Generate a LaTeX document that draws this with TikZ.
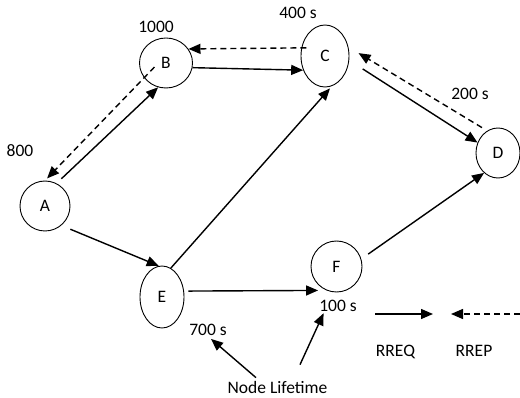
\documentclass[tikz,border=0pt]{standalone}
\usepackage{fontspec}
\setmainfont{Carlito}
\usetikzlibrary{arrows.meta,shapes.geometric}
\begin{document}
\begin{tikzpicture}[x=1pt,y=-1pt,
  nd/.style={draw, ellipse, line width=0.9pt, inner sep=0pt, font=\fontsize{17.5}{20}\selectfont},
  lbl/.style={anchor=base, inner sep=0pt, font=\fontsize{17.5}{20}\selectfont},
  req/.style={line width=1.4pt, -{Triangle[length=12pt,width=10pt]}},
  rep/.style={line width=1.4pt, dash pattern=on 6pt off 4pt, -{Triangle[length=12pt,width=10pt]}}]
\useasboundingbox (0,0) rectangle (520,398);
% nodes
\node[nd, minimum width=53pt, minimum height=50pt] (B) at (166,63) {B};
\node[nd, minimum width=48pt, minimum height=62pt] (C) at (325,56) {C};
\node[nd, minimum width=44pt, minimum height=50pt] (D) at (498,153) {D};
\node[nd, minimum width=50pt, minimum height=50pt] (A) at (45,206) {A};
\node[nd, minimum width=44pt, minimum height=62pt] (E) at (162,297) {E};
\node[nd, minimum width=51pt, minimum height=51pt] (F) at (336.5,266.5) {F};
% labels
\node[lbl] (l1000) at (156,33) {1000};
\node[lbl] (l800) at (20,157) {800};
\node[lbl] (l400) at (298,19) {400 s};
\node[lbl] (l200) at (470,100) {200 s};
\node[lbl] (l700) at (208,336) {700 s};
\node[lbl] (l100) at (338,312) {100 s};
\node[lbl] (lreq) at (395.5,357) {RREQ};
\node[lbl] (lrep) at (474,357) {RREP};
\node[lbl] (nl) at (277.5,393) {Node Lifetime};
% edges
\draw[req, shorten <=6.6pt] (A.63.5) -- (B.252);
\draw[rep, shorten <=-15pt, shorten >=3pt] (B.214) -- (A.90);
\draw[req] (B.-10) -- (C.213);
\draw[rep, shorten <=-5pt] (C.161) -- (B.32);
\draw[req, shorten <=16pt] (C.-10.6) -- (D.153);
\draw[rep, shorten <=6pt, shorten >=11.8pt] (D.116) -- (C.21.7);
\draw[req, shorten >=3pt] (E.73) -- (C.283);
\draw[req, shorten <=9.7pt] (A.-50) -- (E.96);
\draw[req, shorten <=4.4pt, shorten >=8.3pt] (E.15.5) -- (F.247);
\draw[req, shorten <=8.4pt] (F.17) -- (D.235);
% lifetime pointers
\draw[req, shorten >=4pt] ([shift={(-21.5,-3)}]nl.north) -- (l700.south);
\draw[req, shorten >=1pt] ([shift={(22.5,-16)}]nl.north) -- ([xshift=-14pt]l100.south);
% legend
\coordinate (q1) at (375,314);
\coordinate (q2) at (433,314);
\coordinate (p1) at (520,314);
\coordinate (p2) at (451,314);
\draw[req] (q1) -- (q2);
\draw[rep] (p1) -- (p2);
\end{tikzpicture}
\end{document}
